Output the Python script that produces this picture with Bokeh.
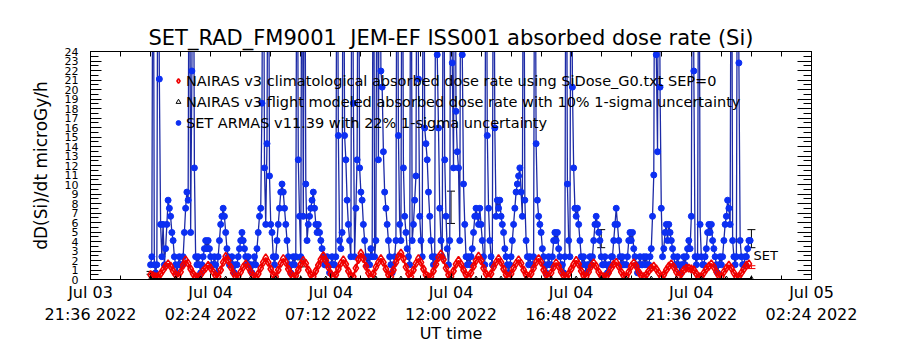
from bokeh.plotting import figure
from bokeh.models import (Range1d, LinearAxis, FixedTicker, Legend, LegendItem,
                          Whisker, ColumnDataSource, TeeHead)
from bokeh.embed import file_html
from bokeh.resources import INLINE
from bokeh.core.properties import value

FONT = "DejaVu Sans"

# ---------------- data ----------------
# sampling steps (minutes) from Jul 04 2022 00:00 UT
BLUE_STEP_MIN = 3
RED_STEP_MIN = 6

# SET ARMAS v11.39 absorbed dose rate (microGy/h), 3-minute samples
set_armas = [
    1.55, 2.4, 50, 1.55, 0.7, 1.55, 50, 21.1, 5.8, 2.4, 5.8, 1.55, 3.25, 5.8, 8.35, 7.5, 6.65, 4.95, 4.1, 2.4,
    1.55, 0.7, 1.55, 2.4, 1.55, 1.55, 2.4, 4.95, 7.5, 9.2, 8.35, 50, 4.95, 21.95, 50, 11.75, 2.4, 1.55, 2.4, 1.55,
    0.7, 1.55, 2.4, 3.25, 4.1, 3.25, 4.1, 3.25, 2.4, 1.55, 1.55, 2.4, 1.55, 0.7, 2.4, 4.1, 5.8, 6.65, 7.5, 6.65,
    4.95, 3.25, 2.4, 1.55, 1.55, 2.4, 1.55, 0.7, 1.55, 1.55, 2.4, 3.25, 4.1, 4.95, 4.1, 3.25, 2.4, 1.55, 2.4, 1.55,
    1.55, 0.7, 1.55, 2.4, 1.55, 3.25, 4.95, 6.65, 7.5, 18.55, 50, 11.75, 5.8, 14.3, 50, 10.9, 5.8, 4.95, 2.4, 1.55,
    2.4, 4.1, 5.8, 7.5, 9.2, 10.05, 9.2, 7.5, 5.8, 4.1, 2.4, 1.55, 0.7, 1.55, 2.4, 1.55, 2.4, 50, 12.6, 6.65,
    2.4, 50, 6.65, 50, 10.05, 4.1, 5.8, 6.65, 7.5, 8.35, 9.2, 7.5, 5.8, 4.95, 5.8, 4.95, 4.1, 3.25, 2.4, 1.55,
    1.55, 2.4, 1.55, 0.7, 1.55, 2.4, 1.55, 1.55, 2.4, 50, 15.15, 4.1, 3.25, 4.95, 50, 15.15, 12.6, 8.35, 5.8, 4.1,
    2.4, 50, 18.55, 2.4, 7.5, 12.6, 50, 11.75, 9.2, 8.35, 5.8, 4.1, 2.4, 1.55, 2.4, 1.55, 3.25, 2.4, 50, 2.4,
    4.1, 50, 12.6, 50, 21.95, 20.25, 13.45, 9.2, 7.5, 5.8, 4.1, 2.4, 1.55, 0.7, 1.55, 2.4, 4.1, 50, 15.15, 5.8,
    4.1, 50, 11.75, 6.65, 4.95, 3.25, 2.4, 1.55, 50, 4.1, 5.8, 8.35, 10.9, 50, 21.1, 6.65, 4.1, 2.4, 50, 15.95,
    14.3, 12.6, 9.2, 6.65, 4.1, 2.4, 1.55, 2.4, 50, 23.65, 15.95, 7.5, 4.1, 2.4, 50, 12.6, 6.65, 3.25, 1.55, 4.1,
    50, 22.8, 11.75, 50, 17.7, 13.45, 11.75, 4.1, 50, 23.65, 10.05, 5.8, 2.4, 1.55, 2.4, 1.55, 2.4, 3.25, 4.95, 6.65,
    7.5, 6.65, 5.8, 7.5, 5.8, 4.1, 2.4, 1.55, 50, 15.15, 7.5, 4.1, 2.4, 1.55, 50, 15.95, 6.65, 8.35, 7.5, 8.35,
    6.65, 5.8, 4.95, 3.25, 2.4, 1.55, 0.7, 1.55, 2.4, 4.1, 5.8, 7.5, 9.2, 10.05, 10.9, 11.75, 9.2, 6.65, 50, 8.35,
    4.1, 2.4, 1.55, 2.4, 1.55, 1.55, 2.4, 50, 14.3, 8.35, 6.65, 5.8, 4.95, 3.25, 2.4, 1.55, 0.7, 1.55, 2.4, 1.55,
    1.55, 2.4, 4.1, 4.95, 4.1, 4.95, 3.25, 2.4, 1.55, 1.55, 0.7, 2.4, 50, 10.05, 4.1, 2.4, 50, 20.25, 11.75, 7.5,
    6.65, 7.5, 5.8, 4.1, 2.4, 1.55, 2.4, 1.55, 0.7, 1.55, 1.55, 2.4, 1.55, 2.4, 4.1, 5.8, 6.65, 5.8, 4.95, 4.1,
    2.4, 1.55, 1.55, 2.4, 1.55, 0.7, 1.55, 1.55, 2.4, 2.4, 4.1, 5.8, 7.5, 5.8, 4.1, 2.4, 1.55, 2.4, 1.55, 1.55,
    1.55, 2.4, 4.1, 4.95, 4.1, 4.95, 3.25, 2.4, 1.55, 0.7, 1.55, 2.4, 1.55, 1.55, 2.4, 1.55, 2.4, 1.55, 1.55, 2.4,
    3.25, 6.65, 11.0, 50, 23.65, 13.45, 50, 20.25, 7.5, 2.4, 3.25, 4.95, 5.8, 4.1, 5.8, 4.95, 4.1, 3.25, 2.4, 1.55,
    1.55, 2.4, 1.55, 0.7, 1.55, 1.55, 2.4, 1.55, 2.4, 3.25, 4.1, 3.25, 6.65, 50, 21.95, 2.4, 1.55, 2.4, 50, 5.8,
    2.4, 1.55, 1.55, 2.4, 3.25, 4.95, 5.8, 4.95, 5.8, 4.1, 3.25, 2.4, 1.55, 0.7, 1.55, 2.4, 1.55, 2.4, 4.1, 5.8,
    6.65, 8.35, 7.5, 5.8, 50, 4.1, 2.4, 1.55, 2.4, 50, 22.8, 4.1, 2.4, 1.55, 1.55, 2.4, 2.4, 3.25, 4.1, 4.1,
]

# NAIRAS v3 climatological absorbed dose rate (microGy/h), 6-minute samples
nairas_clim = [
    0.5, 0.4, 0.3, 0.3, 0.6, 1.0, 1.4, 1.65, 1.4, 0.9,
    0.5, 0.3, 0.8, 1.5, 2.07, 1.7, 1.1, 0.6, 0.3, 0.25,
    0.5, 0.9, 1.2, 1.47, 1.2, 0.8, 0.4, 0.3, 1.0, 1.8,
    2.42, 2.0, 1.3, 0.7, 0.3, 0.3, 0.8, 1.3, 1.65, 1.3,
    0.8, 0.4, 0.25, 0.6, 1.2, 1.8, 2.28, 1.8, 1.1, 0.5,
    0.3, 1.0, 1.7, 2.2, 1.8, 1.1, 0.6, 0.3, 0.4, 1.0,
    1.6, 2.0, 1.7, 1.0, 0.5, 0.3, 0.9, 1.5, 2.1, 2.5,
    2.0, 1.3, 0.6, 0.3, 0.5, 1.1, 1.7, 2.07, 1.6, 0.9,
    0.4, 0.3, 1.2, 2.1, 2.77, 2.2, 1.4, 0.7, 0.3, 0.6,
    1.3, 1.8, 2.2, 1.8, 1.1, 0.5, 0.3, 1.0, 1.8, 2.4,
    2.77, 2.2, 1.3, 0.6, 0.3, 1.0, 1.7, 2.2, 1.8, 1.1,
    0.5, 0.3, 0.3, 0.9, 1.6, 2.3, 2.7, 2.1, 1.2, 0.5,
    0.3, 0.9, 1.6, 2.0, 1.6, 1.0, 0.5, 0.3, 0.7, 1.4,
    2.0, 2.45, 2.0, 1.2, 0.6, 0.3, 0.6, 1.3, 1.8, 2.2,
    1.8, 1.1, 0.5, 0.3, 0.6, 1.2, 1.7, 2.07, 1.7, 1.0,
    0.5, 0.3, 0.6, 1.2, 1.8, 2.2, 1.8, 1.0, 0.5, 0.3,
    0.7, 1.3, 1.75, 1.4, 0.8, 0.4, 0.3, 0.6, 1.1, 1.6,
    2.0, 1.6, 0.9, 0.4, 0.3, 0.8, 1.4, 1.75, 1.4, 0.8,
    0.4, 0.3, 0.3, 0.7, 1.2, 1.6, 1.8, 1.4, 0.8, 0.4,
    0.3, 0.8, 1.4, 1.75, 1.4, 0.8, 0.4, 0.3, 0.5, 0.9,
    1.2, 1.4, 1.1, 0.7, 0.3, 0.5, 1.0, 1.4, 1.65, 1.3,
    0.8, 0.4, 0.6, 1.0, 1.2, 1.2, 1.1, 1.0, 0.6, 0.3,
    0.3, 0.7, 1.1, 1.4, 1.65, 1.3, 0.8, 0.4, 0.3, 0.8,
    1.2, 1.5, 1.2, 0.7, 0.3, 0.3, 0.7, 1.1, 1.5, 1.65,
]

# NAIRAS v3 flight modeled absorbed dose rate (hourly, hours after Jul 04 00:00)
flight_hours = [0, 1, 2, 3, 4, 5, 6, 7, 8, 9, 10, 11, 12, 13, 14, 15, 16, 17, 18, 19, 20, 21, 22, 23, 24]
flight_rate = [0.0, 0.0, 0.0, 0.0, 0.0, 0.0, 0.0, 0.0, 0.0, 0.0, 0.0, 0.0, 0.0,
               0.0, 0.0, 0.0, 0.0, 0.0, 0.0, 0.0, 0.0, 0.0, 0.0, 0.0, 0.0]

# SET 22% 1-sigma error bars
set_err_hours = [0, 6, 12, 18, 24]
set_err_low = [0.55, 1.33, 5.9, 3.35, 3.35]
set_err_high = [0.85, 2.07, 9.3, 5.25, 5.25]
set_label = "SET"
set_label_rate = 2.5

# NAIRAS 10% error bar at the end
clim_err_hours = [24]
clim_err_low = [1.15]
clim_err_high = [1.45]

# axis ticks (hours after Jul 04 00:00)
x_tick_hours = [-2.4, 2.4, 7.2, 12.0, 16.8, 21.6, 26.4]
x_tick_labels = ["Jul 03\n21:36 2022", "Jul 04\n02:24 2022", "Jul 04\n07:12 2022",
                 "Jul 04\n12:00 2022", "Jul 04\n16:48 2022", "Jul 04\n21:36 2022",
                 "Jul 05\n02:24 2022"]
x_minor_hours = [-2.4 + 1.2 * k for k in range(25)]
y_ticks = list(range(0, 25))
y_half_ticks = [0.5 + k for k in range(24)]
y_minor = [0.5 * k for k in range(49)]

title_text = "SET_RAD_FM9001\u00a0 JEM-EF ISS001 absorbed dose rate (Si)"
legend_labels = [
    "NAIRAS v3 climatological absorbed dose rate using SiDose_G0.txt SEP=0",
    "NAIRAS v3 flight modeled absorbed dose rate with 10% 1-sigma uncertainty",
    "SET ARMAS v11.39 with 22% 1-sigma uncertainty",
]

blue_t = [i * BLUE_STEP_MIN / 60.0 for i in range(len(set_armas))]
red_t = [i * RED_STEP_MIN / 60.0 for i in range(len(nairas_clim))]

# ---------------- figure ----------------
p = figure(width=900, height=350, output_backend="svg", toolbar_location=None,
           x_range=Range1d(-2.4, 26.4), y_range=Range1d(0, 24),
           x_axis_type=None, y_axis_type=None,
           min_border_left=90, min_border_right=89, min_border_top=51, min_border_bottom=71)
p.background_fill_color = "white"
p.border_fill_color = "white"
p.outline_line_color = "black"
p.outline_line_width = 1

p.title.text = title_text
p.title.align = "center"
p.title.text_font = FONT
p.title.text_font_size = "21px"
p.title.text_font_style = "normal"
p.title.text_color = "black"
p.title.standoff = 4

def style_axis(ax, tin, mtin):
    ax.axis_line_color = "black"
    ax.major_tick_line_color = "black"
    ax.minor_tick_line_color = "black"
    ax.major_tick_in = tin
    ax.major_tick_out = 0
    ax.minor_tick_in = mtin
    ax.minor_tick_out = 0
    ax.major_label_text_font = FONT
    ax.axis_label_text_font = FONT
    ax.axis_label_text_font_style = "normal"
    ax.major_label_text_color = "black"
    ax.axis_label_text_color = "black"

bottom = LinearAxis(ticker=FixedTicker(ticks=x_tick_hours, minor_ticks=x_minor_hours),
                    axis_label="UT time")
style_axis(bottom, 6, 4)
bottom.major_label_overrides = dict(zip(x_tick_hours, x_tick_labels))
bottom.major_label_text_font_size = "16px"
bottom.axis_label_text_font_size = "16px"
bottom.major_label_standoff = 3
bottom.axis_label_standoff = -3
p.add_layout(bottom, "below")

# top: tick marks only (no labels)
top = LinearAxis(ticker=FixedTicker(ticks=[], minor_ticks=x_minor_hours))
style_axis(top, 0, 5)
p.add_layout(top, "above")

left = LinearAxis(ticker=FixedTicker(ticks=y_ticks, minor_ticks=y_minor),
                  axis_label="dD(Si)/dt microGy/h")
style_axis(left, 11, 8)
left.major_label_text_font_size = "11px"
left.axis_label_text_font_size = "17px"
left.major_label_standoff = 12
left.axis_label_standoff = 11
p.add_layout(left, "left")

# right: tick marks only (long at integers, short at halves)
right = LinearAxis(ticker=FixedTicker(ticks=[], minor_ticks=y_ticks))
style_axis(right, 0, 14)
p.add_layout(right, "right")
right2 = LinearAxis(ticker=FixedTicker(ticks=[], minor_ticks=y_half_ticks))
style_axis(right2, 0, 8)
p.add_layout(right2, "right")

# ---------------- glyphs ----------------
BLUE_LINE = "#1c2aa6"
BLUE_DOT = "#0c2ff2"
RED = "#f00000"

blue_line = p.line(blue_t, set_armas, line_color=BLUE_LINE, line_width=1.3)
blue_dot = p.scatter(blue_t, set_armas, marker="circle", size=6,
                     fill_color=BLUE_DOT, line_color=BLUE_DOT)

red_line = p.line(red_t, nairas_clim, line_color=RED, line_width=2)
red_dia = p.scatter(red_t, nairas_clim, marker="diamond", size=8,
                    fill_color=None, line_color=RED, line_width=1.6)

black_line = p.line(flight_hours, flight_rate, line_color="black", line_width=3)
black_tri = p.scatter(flight_hours, flight_rate, marker="triangle", size=6,
                      fill_color=None, line_color="black")

err_src = ColumnDataSource(dict(t=set_err_hours, lo=set_err_low, hi=set_err_high))
p.add_layout(Whisker(source=err_src, base="t", lower="lo", upper="hi", dimension="height",
                     line_color="black", line_width=1,
                     upper_head=TeeHead(size=8, line_color="black", line_width=1),
                     lower_head=TeeHead(size=8, line_color="black", line_width=1)))
clim_src = ColumnDataSource(dict(t=clim_err_hours, lo=clim_err_low, hi=clim_err_high))
p.add_layout(Whisker(source=clim_src, base="t", lower="lo", upper="hi", dimension="height",
                     line_color=RED, line_width=1,
                     upper_head=TeeHead(size=8, line_color=RED, line_width=1),
                     lower_head=TeeHead(size=8, line_color=RED, line_width=1)))

p.text(x=[set_err_hours[-1]], y=[set_label_rate], text=[set_label],
       text_font=value(FONT), text_font_size="13px", text_color="black",
       text_align="left", text_baseline="middle", x_offset=2)

legend = Legend(items=[
    LegendItem(label=legend_labels[0], renderers=[red_dia]),
    LegendItem(label=legend_labels[1], renderers=[black_tri]),
    LegendItem(label=legend_labels[2], renderers=[blue_dot]),
], location=(82, 148), border_line_color=None, background_fill_alpha=0,
    label_text_font=FONT, label_text_font_size="14.5px", label_text_color="black",
    glyph_width=12, glyph_height=17, label_height=17, spacing=4, padding=0, margin=0,
    label_standoff=2)
p.add_layout(legend)

open("out.html", "w").write(file_html(p, INLINE))
